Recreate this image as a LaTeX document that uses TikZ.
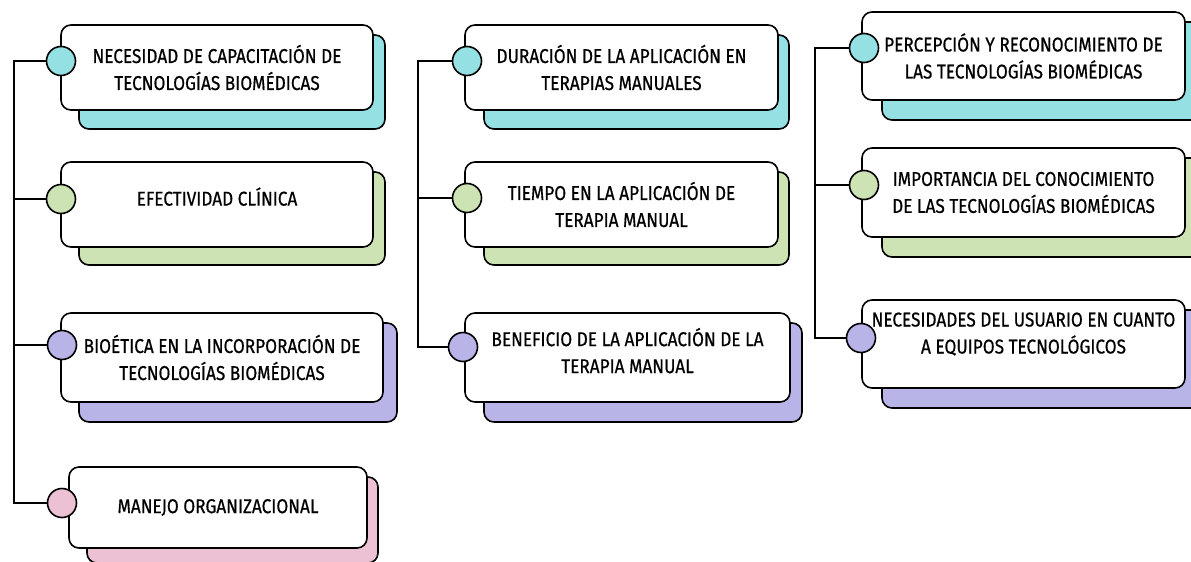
\documentclass[tikz,border=0pt]{standalone}
\usepackage{fontspec}
\setmainfont{Fira Sans}[FakeStretch=0.86, FakeBold=0.6]

\definecolor{cian}{HTML}{94E0E3}
\definecolor{verde}{HTML}{CDE3B4}
\definecolor{lila}{HTML}{B9B4E8}
\definecolor{rosa}{HTML}{ECC1D4}

\tikzset{
    tarjeta/.style={draw, fill=white, rounded corners=10pt, line width=1.6pt, align=center, font=\fontsize{20}{27}\selectfont},
    sombra/.style={draw, rounded corners=10pt, line width=1.6pt},
    punto/.style={draw, circle, line width=1.6pt, minimum size=29pt, inner sep=0pt},
    rama/.style={line width=1.5pt}
}

\begin{document}
\begin{tikzpicture}[x=1pt, y=-1pt]

    \useasboundingbox (0,0) rectangle (1191,562);
    \clip (0,0) rectangle (1191,562);

    % Columna 1
    \node[sombra, fill=cian, minimum width=306pt, minimum height=94pt] (nec-s) at (232,82) {};
    \node[tarjeta, minimum width=312pt, minimum height=85pt] (nec) at (217,67.5) {NECESIDAD DE CAPACITACIÓN DE\\TECNOLOGÍAS BIOMÉDICAS};
    \node[punto, fill=cian] (nec-p) at (61,61) {};

    \node[sombra, fill=verde, minimum width=306pt, minimum height=93pt] (efe-s) at (232,218.5) {};
    \node[tarjeta, text depth=16pt, minimum width=312pt, minimum height=85pt] (efe) at (217,204.5) {EFECTIVIDAD CLÍNICA};
    \node[punto, fill=verde] (efe-p) at (61,199) {};

    \node[sombra, fill=lila, minimum width=318pt, minimum height=99pt] (bio-s) at (238,372.5) {};
    \node[tarjeta, minimum width=322pt, minimum height=89pt] (bio) at (222,357.5) {BIOÉTICA EN LA INCORPORACIÓN DE\\TECNOLOGÍAS BIOMÉDICAS};
    \node[punto, fill=lila] (bio-p) at (62,345) {};

    \node[sombra, fill=rosa, minimum width=291pt, minimum height=86pt] (man-s) at (232.5,520) {};
    \node[tarjeta, minimum width=298pt, minimum height=81pt] (man) at (218,507.5) {MANEJO ORGANIZACIONAL};
    \node[punto, fill=rosa] (man-p) at (62,503) {};

    % Columna 2
    \node[sombra, fill=cian, minimum width=305pt, minimum height=94pt] (dur-s) at (636.5,82) {};
    \node[tarjeta, minimum width=313pt, minimum height=85pt] (dur) at (621.5,67.5) {DURACIÓN DE LA APLICACIÓN EN\\TERAPIAS MANUALES};
    \node[punto, fill=cian] (dur-p) at (467,61) {};

    \node[sombra, fill=verde, minimum width=305pt, minimum height=93pt] (tie-s) at (636.5,218.5) {};
    \node[tarjeta, minimum width=313pt, minimum height=85pt] (tie) at (621.5,204.5) {TIEMPO EN LA APLICACIÓN DE\\TERAPIA MANUAL};
    \node[punto, fill=verde] (tie-p) at (467,198) {};

    \node[sombra, fill=lila, minimum width=318pt, minimum height=99pt] (ben-s) at (643,372.5) {};
    \node[tarjeta, text depth=14pt, minimum width=325pt, minimum height=89pt] (ben) at (627.5,357.5) {BENEFICIO DE LA APLICACIÓN DE LA\\TERAPIA MANUAL};
    \node[punto, fill=lila] (ben-p) at (463,347) {};

    % Columna 3
    \node[sombra, fill=cian, minimum width=321pt, minimum height=98pt] (per-s) at (1042.5,71) {};
    \node[tarjeta, minimum width=323pt, minimum height=88pt] (per) at (1023.5,56) {PERCEPCIÓN Y RECONOCIMIENTO DE\\LAS TECNOLOGÍAS BIOMÉDICAS};
    \node[punto, fill=cian] (per-p) at (864,48) {};

    \node[sombra, fill=verde, minimum width=321pt, minimum height=99pt] (imp-s) at (1042.5,207.5) {};
    \node[tarjeta, minimum width=323pt, minimum height=89pt] (imp) at (1023.5,192.5) {IMPORTANCIA DEL CONOCIMIENTO\\DE LAS TECNOLOGÍAS BIOMÉDICAS};
    \node[punto, fill=verde] (imp-p) at (864,185) {};

    \node[sombra, fill=lila, minimum width=321pt, minimum height=98pt] (usu-s) at (1042.5,359) {};
    \node[tarjeta, text depth=22pt, minimum width=323pt, minimum height=88pt] (usu) at (1023.5,344) {NECESIDADES DEL USUARIO EN CUANTO\\A EQUIPOS TECNOLÓGICOS};
    \node[punto, fill=lila] (usu-p) at (861,338) {};

    % Ramas
    \coordinate (t1) at (14,0);
    \coordinate (t2) at (418,0);
    \coordinate (t3) at (815,0);

    \path[draw, rama] (nec-p.west) -| (t1 |- man-p) -- (man-p.west);
    \path[draw, rama] (t1 |- efe-p) -- (efe-p.west);
    \path[draw, rama] (t1 |- bio-p) -- (bio-p.west);

    \path[draw, rama] (dur-p.west) -| (t2 |- ben-p) -- (ben-p.west);
    \path[draw, rama] (t2 |- tie-p) -- (tie-p.west);

    \path[draw, rama] (per-p.west) -| (t3 |- usu-p) -- (usu-p.west);
    \path[draw, rama] (t3 |- imp-p) -- (imp-p.west);

\end{tikzpicture}
\end{document}
